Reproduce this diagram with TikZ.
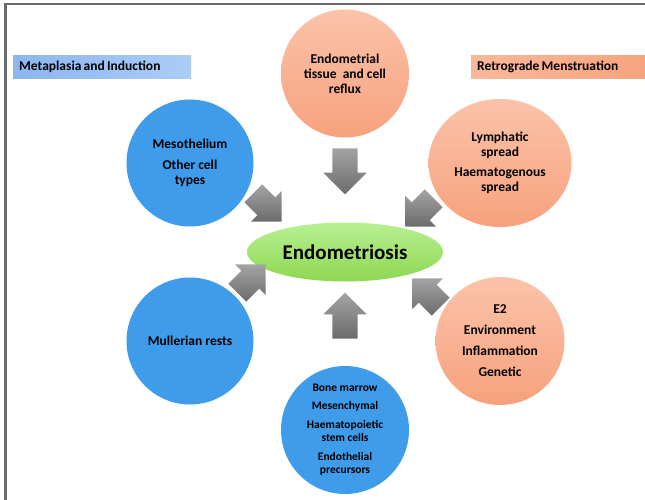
\documentclass[tikz,border=0pt]{standalone}
\usepackage{fontspec}
\setmainfont{Carlito}
\usetikzlibrary{shapes.geometric,shapes.arrows}
\definecolor{cellblue}{HTML}{3F9CEA}
\definecolor{peachtop}{HTML}{FBC3A9}
\definecolor{peachbot}{HTML}{F7A17D}
\definecolor{limetop}{HTML}{B8F092}
\definecolor{limebot}{HTML}{8ED752}
\definecolor{tagblueA}{HTML}{8CB6F0}
\definecolor{tagblueB}{HTML}{ABCDF7}
\definecolor{tagpeachA}{HTML}{FAB89B}
\definecolor{tagpeachB}{HTML}{F7A27D}
\definecolor{framegray}{HTML}{6A6A6A}
\def\tagspacing{\spaceskip=2.2pt plus 0.5pt\relax}
\tikzset{
  cellfont/.style={font=\fontsize{13.5}{15}\selectfont\bfseries},
  bluecell/.style={circle, fill=cellblue, minimum size=127, inner sep=0, align=center, cellfont},
  peachcell/.style={ellipse, top color=peachtop, bottom color=peachbot, minimum width=128, minimum height=128, inner sep=0, align=center, cellfont},
  tagbox/.style={rectangle, anchor=north west, minimum height=23, inner xsep=6, inner ysep=0, align=left, font=\fontsize{13.5}{15}\selectfont\bfseries},
  blockarrow/.style={single arrow, single arrow head extend=9, single arrow head indent=0, inner xsep=0, inner ysep=12.5, top color=black!36, bottom color=black!58, draw=none}
}

\begin{document}
\begin{tikzpicture}[x=1pt, y=-1pt]
		%%%%% START %%%%%
		\useasboundingbox (0,0) rectangle (645,500);
		\draw[framegray, line width=2.5] (5.5,500) -- (5.5,4) -- (645,4);
		
		\node[tagbox, left color=tagblueA, right color=tagblueB, text width=166] (metabox) at (13,55) {\tagspacing Metaplasia and Induction};
		\node[tagbox, left color=tagpeachA, right color=tagpeachB, text width=170] (retrobox) at (471,55) {\tagspacing Retrograde Menstruation};
		
		\node[ellipse, top color=limetop, bottom color=limebot, minimum width=196, minimum height=59, inner sep=0, font=\fontsize{21}{24}\selectfont\bfseries] (endo) at (345,252) {Endometriosis};
		
		\node[peachcell] (reflux) at (345,73.5) {Endometrial\\tissue\ \ and cell\\reflux};
		\node[peachcell, minimum width=143] (spread) at (500,163) {Lymphatic\\spread\\[5pt]Haematogenous\\spread};
		\node[peachcell, minimum width=129] (factors) at (500,341) {E2\\[6pt]Environment\\[6pt]Inflammation\\[6pt]Genetic};
		\node[bluecell] (meso) at (190,163) {Mesothelium\\[6pt]Other cell\\types};
		\node[bluecell] (mullerian) at (190,341) {Mullerian rests};
		\node[bluecell, minimum size=128, font=\fontsize{11.5}{13.5}\selectfont\bfseries] (marrow) at (345,430) {Bone marrow\\[4.5pt]Mesenchymal\\[5pt]Haematopoietic\\stem cells\\[5pt]Endothelial\\precursors};
		
		\node[blockarrow, minimum height=46, rotate=-90] (aReflux) at (345,165) {};
		\node[blockarrow, minimum height=46, rotate=90] (aMarrow) at (345,322) {};
		\node[blockarrow, minimum height=40, rotate=-45] (aMeso) at (263,203) {};
		\node[blockarrow, minimum height=40, rotate=45] (aMullerian) at (247,283) {};
		\node[blockarrow, minimum height=40, rotate=-135] (aSpread) at (424,208) {};
		\node[blockarrow, minimum height=40, rotate=135] (aFactors) at (431,297) {};
		
		%%%%% END %%%%%
\end{tikzpicture}
\end{document}
